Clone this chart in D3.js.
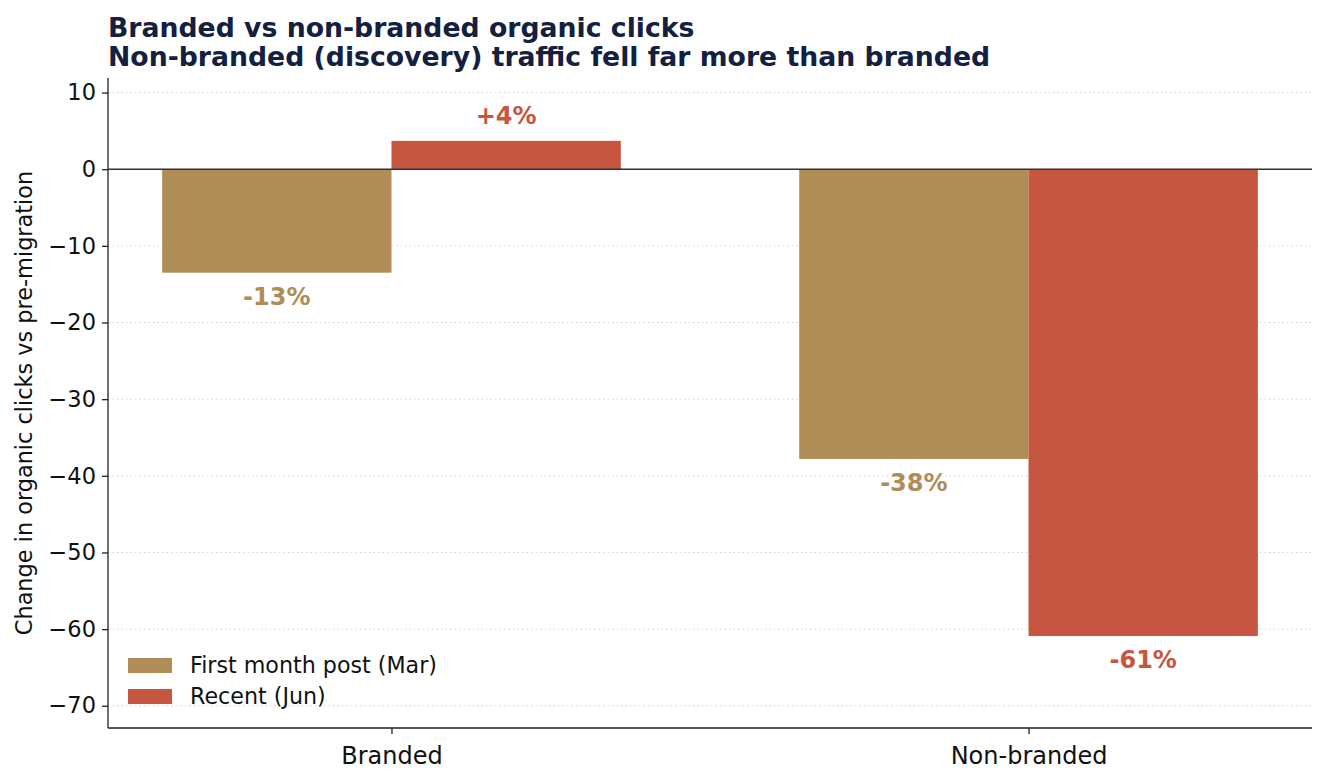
<!DOCTYPE html>
<html>
<head>
<meta charset="utf-8">
<script src="https://cdn.jsdelivr.net/npm/d3@7"></script>
<style>
  body { margin: 0; background: #fff; }
</style>
</head>
<body>
<svg id="chart"></svg>
<script>
// Data
const categories = ['Branded', 'Non-branded'];
const seriesNames = ['First month post (Mar)', 'Recent (Jun)'];
const firstMonth = [-13.5, -37.8];
const recent = [3.7, -60.9];
const labelsFirst = ['-13%', '-38%'];
const labelsRecent = ['+4%', '-61%'];
const yTicks = [10, 0, -10, -20, -30, -40, -50, -60, -70];
const colors = ['#b08d57', '#c6563f'];

const FONT = 'DejaVu Sans';
const width = 1327, height = 784;
const margin = {left: 108, right: 15, top: 78, bottom: 56};

const svg = d3.select('#chart').attr('width', width).attr('height', height)
  .attr('font-family', FONT);

const x = d3.scaleLinear()
  .domain([-0.445, 1.445])
  .range([margin.left, width - margin.right]);
const y = d3.scaleLinear()
  .domain([-72.9, 11.9])
  .range([height - margin.bottom, margin.top]);
const barW = 0.36;

// grid
svg.append('g')
  .selectAll('line')
  .data(yTicks)
  .enter()
  .append('line')
  .attr('x1', margin.left)
  .attr('x2', width - margin.right)
  .attr('y1', d => y(d))
  .attr('y2', d => y(d))
  .attr('stroke', '#cfcfcf')
  .attr('stroke-width', 1)
  .attr('stroke-dasharray', '1.5,3');

// bars
const rows = categories.map((c, i) => [
  {i: i, s: 0, v: firstMonth[i], label: labelsFirst[i]},
  {i: i, s: 1, v: recent[i], label: labelsRecent[i]}
]).flat();

svg.append('g')
  .selectAll('rect')
  .data(rows)
  .enter()
  .append('rect')
  .attr('x', d => x(d.i + (d.s === 0 ? -barW : 0)))
  .attr('width', x(barW) - x(0))
  .attr('y', d => y(Math.max(0, d.v)))
  .attr('height', d => Math.abs(y(d.v) - y(0)))
  .attr('fill', d => colors[d.s]);

// value labels
svg.append('g')
  .selectAll('text')
  .data(rows)
  .enter()
  .append('text')
  .attr('x', d => x(d.i + (d.s === 0 ? -barW / 2 : barW / 2)))
  .attr('y', d => d.v >= 0 ? y(d.v) - 17 : y(d.v) + 32)
  .attr('text-anchor', 'middle')
  .attr('font-family', FONT)
  .attr('font-size', '24px')
  .attr('font-weight', 'bold')
  .attr('fill', d => colors[d.s])
  .text(d => d.label);

// zero line
svg.append('line')
  .attr('x1', margin.left)
  .attr('x2', width - margin.right)
  .attr('y1', y(0))
  .attr('y2', y(0))
  .attr('stroke', '#333')
  .attr('stroke-width', 1.5);

// axes
const yAxis = d3.axisLeft(y).tickValues(yTicks).tickSize(6).tickPadding(6)
  .tickFormat(d => d < 0 ? '\u2212' + Math.abs(d) : d);
svg.append('g')
  .attr('transform', 'translate(' + margin.left + ',0)')
  .call(yAxis)
  .attr('font-family', FONT)
  .attr('font-size', 22.5)
  .call(g => g.selectAll('line').attr('stroke', '#222').attr('stroke-width', 1.3))
  .call(g => g.selectAll('text').attr('fill', '#111'));

const xAxis = d3.axisBottom(x).tickValues([0, 1]).tickSize(6)
  .tickFormat((d, i) => categories[i]);
svg.append('g')
  .attr('transform', 'translate(0,' + (height - margin.bottom) + ')')
  .call(xAxis)
  .attr('font-family', FONT)
  .attr('font-size', 24)
  .call(g => g.selectAll('line').attr('stroke', '#222').attr('stroke-width', 1.3))
  .call(g => g.selectAll('text').attr('fill', '#111').attr('y', 36).attr('dy', '0'));

// clean spines
svg.selectAll('.domain').remove();
svg.append('line')
  .attr('x1', margin.left).attr('x2', margin.left)
  .attr('y1', margin.top).attr('y2', height - margin.bottom)
  .attr('stroke', '#222').attr('stroke-width', 1.3);
svg.append('line')
  .attr('x1', margin.left).attr('x2', width - margin.right)
  .attr('y1', height - margin.bottom).attr('y2', height - margin.bottom)
  .attr('stroke', '#222').attr('stroke-width', 1.3);

// axis label
svg.append('text')
  .attr('transform', 'translate(32,' + ((margin.top + height - margin.bottom) / 2) + ') rotate(-90)')
  .attr('text-anchor', 'middle')
  .attr('font-family', FONT)
  .attr('font-size', '22.4px')
  .attr('fill', '#111')
  .text('Change in organic clicks vs pre-migration');

// title
[['Branded vs non-branded organic clicks', 37],
 ['Non-branded (discovery) traffic fell far more than branded', 66]].forEach(t => {
  svg.append('text')
    .attr('x', margin.left)
    .attr('y', t[1])
    .attr('font-family', FONT)
    .attr('font-size', '26.7px')
    .attr('font-weight', 'bold')
    .attr('fill', '#13203f')
    .text(t[0]);
});

// legend
const legend = svg.append('g').attr('transform', 'translate(128,658)');
seriesNames.forEach((name, i) => {
  legend.append('rect')
    .attr('x', 0).attr('y', i * 31)
    .attr('width', 44).attr('height', 15)
    .attr('fill', colors[i]);
  legend.append('text')
    .attr('x', 62).attr('y', i * 31 + 15)
    .attr('font-family', FONT)
    .attr('font-size', '22.2px')
    .attr('fill', '#111')
    .text(name);
});
</script>
</body>
</html>
